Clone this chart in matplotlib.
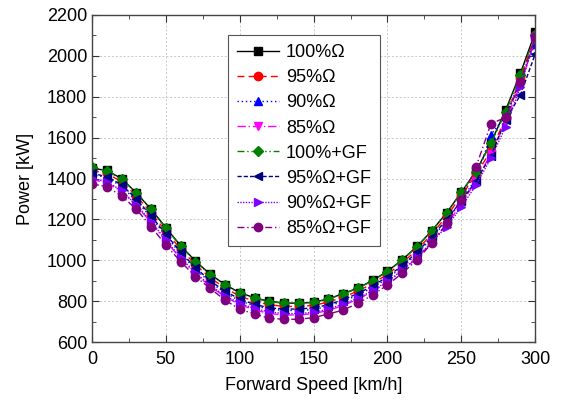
import numpy as np
import matplotlib.pyplot as plt
from matplotlib.ticker import MultipleLocator

plt.rcParams["font.family"] = ["Liberation Sans", "DejaVu Sans"]

speed = list(range(0, 301, 10))

p100 = [1450, 1440, 1400, 1330, 1250, 1160, 1072, 997, 932, 882, 842, 817, 800, 792, 790, 795,
        812, 837, 865, 902, 947, 1003, 1068, 1145, 1232, 1333, 1437, 1575, 1735, 1915, 2115]
p95 = [1440, 1425, 1385, 1315, 1233, 1142, 1055, 980, 915, 865, 825, 800, 783, 775, 775, 780,
       796, 820, 850, 887, 932, 988, 1052, 1128, 1215, 1315, 1420, 1536, 1696, 1890, 2100]
p90 = [1420, 1405, 1362, 1292, 1210, 1120, 1032, 957, 893, 842, 802, 778, 762, 755, 755, 760,
       776, 800, 830, 867, 912, 967, 1032, 1108, 1195, 1295, 1400, 1613, 1710, 1880, 2060]
p85 = [1395, 1380, 1338, 1268, 1185, 1095, 1008, 935, 872, 823, 783, 758, 740, 733, 733, 740,
       755, 780, 810, 848, 893, 948, 1012, 1088, 1175, 1275, 1390, 1520, 1680, 1860, 2080]
p100_gf = [1455, 1439, 1397, 1331, 1250, 1157, 1070, 994, 929, 880, 839, 815, 798, 790, 790, 795,
           811, 836, 863, 901, 945, 1002, 1067, 1144, 1230, 1333, 1434, 1572, 1725, 1905, 2100]
p95_gf = [1425, 1410, 1370, 1300, 1218, 1128, 1040, 965, 900, 850, 810, 785, 768, 762, 762, 768,
          783, 808, 838, 875, 920, 975, 1040, 1115, 1200, 1290, 1390, 1510, 1687, 1809, 2009]
p90_gf = [1400, 1385, 1342, 1272, 1190, 1100, 1013, 940, 877, 828, 790, 765, 748, 740, 740, 746,
          762, 786, 815, 853, 897, 952, 1015, 1090, 1165, 1260, 1369, 1499, 1654, 1846, 2094]
p85_gf = [1374, 1360, 1315, 1250, 1165, 1075, 994, 921, 863, 806, 761, 738, 717, 712, 712, 720,
          738, 757, 790, 831, 880, 937, 1002, 1084, 1181, 1295, 1458, 1667, 1700, 1870, 2090]

labels = ["100%Ω", "95%Ω", "90%Ω", "85%Ω", "100%+GF", "95%Ω+GF", "90%Ω+GF", "85%Ω+GF"]
series = [p100, p95, p90, p85, p100_gf, p95_gf, p90_gf, p85_gf]

styles = [
    dict(color="black", ls="-", marker="s"),
    dict(color="red", ls=(0, (5, 3)), marker="o"),
    dict(color="blue", ls=(0, (1, 2)), marker="^"),
    dict(color="magenta", ls=(0, (6, 2, 1, 2)), marker="v"),
    dict(color="green", ls=(0, (5, 2, 1, 2, 1, 2)), marker="D"),
    dict(color="#000080", ls=(0, (3, 1.5)), marker="<"),
    dict(color="#8000ff", ls=(0, (1, 1)), marker=">"),
    dict(color="#800080", ls=(0, (5, 2, 1, 2)), marker="o"),
]

fig = plt.figure(figsize=(5.61, 4.04), dpi=100)
ax = fig.add_axes([0.164, 0.153, 0.790, 0.810])

for y, lab, st in zip(series, labels, styles):
    ms = 5 if st["marker"] == "D" else 6
    ax.plot(speed, y, label=lab, lw=1.0, ms=ms, mec=st["color"], **st)

ax.set_xlim(0, 300)
ax.set_ylim(600, 2200)
ax.xaxis.set_major_locator(MultipleLocator(50))
ax.xaxis.set_minor_locator(MultipleLocator(25))
ax.yaxis.set_major_locator(MultipleLocator(200))
ax.yaxis.set_minor_locator(MultipleLocator(100))
ax.tick_params(which="both", direction="in", top=True, right=True, labelsize=13, colors="#333333",
               labelcolor="black")
ax.tick_params(axis="x", which="major", pad=6)
ax.tick_params(which="major", length=5)
ax.tick_params(which="minor", length=3)
ax.grid(True, which="major", ls=(0, (2, 2)), color="#c8c8c8", lw=0.7)
for sp in ax.spines.values():
    sp.set_color("#444444")
    sp.set_linewidth(1.0)

ax.set_xlabel("Forward Speed [km/h]", fontsize=13, labelpad=7)
ax.set_ylabel("Power [kW]", fontsize=13, labelpad=9)

leg = ax.legend(loc="upper left", bbox_to_anchor=(0.287, 0.966), fontsize=13, fancybox=False,
                framealpha=1, edgecolor="#555555", handlelength=2.3, labelspacing=0.45,
                borderpad=0.5, handletextpad=0.4)
leg.get_frame().set_linewidth(0.8)

fig.savefig("out.png", dpi=100)
